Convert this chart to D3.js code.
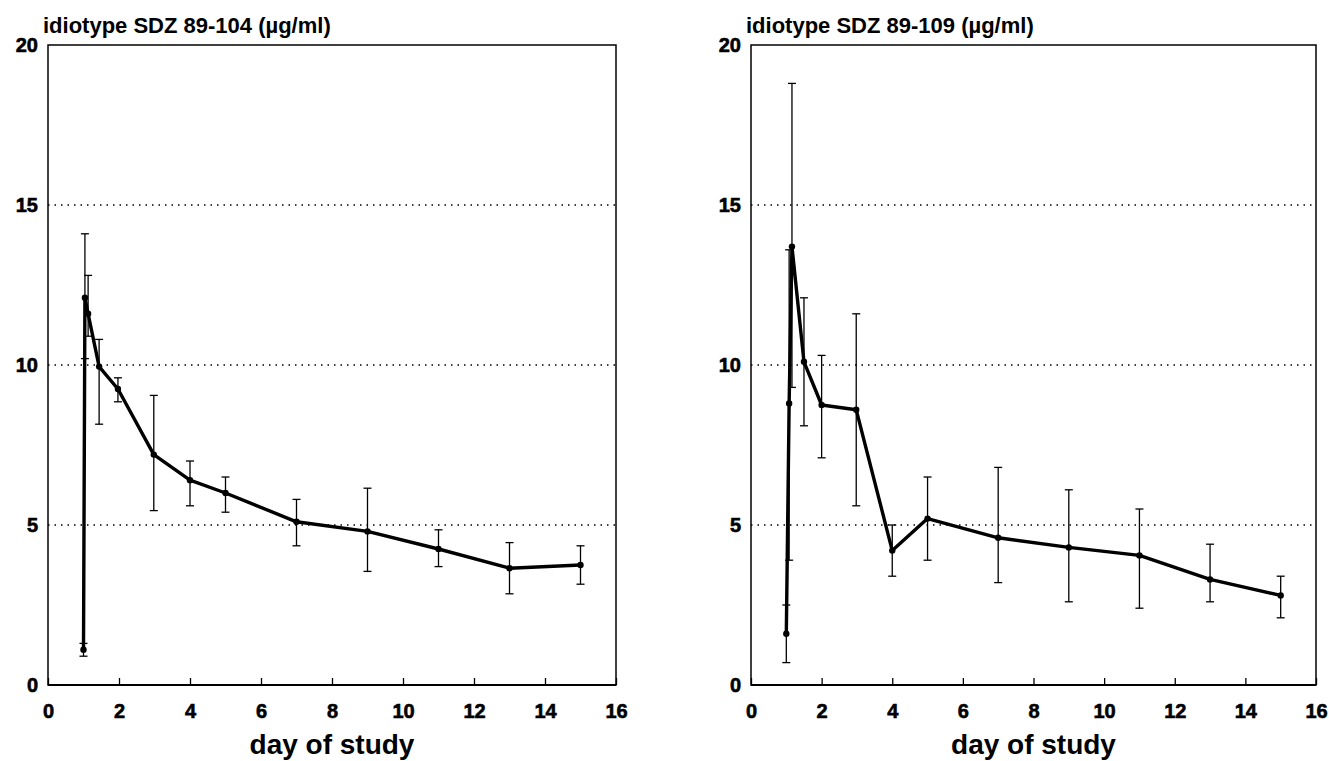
<!DOCTYPE html>
<html>
<head>
<meta charset="utf-8">
<script src="https://cdn.jsdelivr.net/npm/d3@7"></script>
<style>
  body { margin: 0; background: #fff; }
  svg { display: block; }
  text { font-family: "Liberation Sans", Arial, sans-serif; fill: #000; }
</style>
</head>
<body>
<svg id="chart" width="1329" height="761"></svg>
<script>
// ---- data ----
const xTicks = [0, 2, 4, 6, 8, 10, 12, 14, 16];
const yTicks = [0, 5, 10, 15, 20];
const gridValues = [5, 10, 15];

const titleLeft = "idiotype SDZ 89-104 (µg/ml)";
const daysLeft  = [1.0, 1.04, 1.13, 1.44, 1.97, 2.98, 4, 5, 7, 9, 11, 13, 15];
const meanLeft  = [1.1, 12.1, 11.6, 9.95, 9.25, 7.2, 6.4, 6.0, 5.1, 4.8, 4.25, 3.65, 3.75];
const lowLeft   = [0.9, 10.2, 10.9, 8.15, 8.85, 5.45, 5.6, 5.4, 4.35, 3.55, 3.7, 2.85, 3.15];
const highLeft  = [1.3, 14.1, 12.8, 10.8, 9.6, 9.05, 7.0, 6.5, 5.8, 6.15, 4.85, 4.45, 4.35];

const titleRight = "idiotype SDZ 89-109 (µg/ml)";
const daysRight  = [1.0, 1.08, 1.16, 1.5, 2, 2.98, 4, 5, 7, 9, 11, 13, 15];
const meanRight  = [1.6, 8.8, 13.7, 10.1, 8.75, 8.6, 4.2, 5.2, 4.6, 4.3, 4.05, 3.3, 2.8];
const lowRight   = [0.7, 3.9, 9.3, 8.1, 7.1, 5.6, 3.4, 3.9, 3.2, 2.6, 2.4, 2.6, 2.1];
const highRight  = [2.5, 13.6, 18.8, 12.1, 10.3, 11.6, 5.0, 6.5, 6.8, 6.1, 5.5, 4.4, 3.4];

const xLabel = "day of study";

// ---- drawing ----
const svg = d3.select("#chart");
const FONT = "'Liberation Sans', Arial, sans-serif";

function panel(left, right, title, days, mean, low, high) {
  const x = d3.scaleLinear().domain([0, 16]).range([left, right]);
  const y = d3.scaleLinear().domain([0, 20]).range([685, 45]);
  const g = svg.append("g");

  // dotted gridlines
  g.selectAll("line.grid").data(gridValues).enter().append("line")
    .attr("x1", x(0)).attr("x2", x(16))
    .attr("y1", d => y(d)).attr("y2", d => y(d))
    .attr("stroke", "#000").attr("stroke-width", 1.3)
    .attr("stroke-dasharray", "1.5,5");

  // frame
  g.append("rect")
    .attr("x", x(0)).attr("y", y(20))
    .attr("width", x(16) - x(0)).attr("height", y(0) - y(20))
    .attr("fill", "none").attr("stroke", "#000").attr("stroke-width", 1.5);
  g.append("line").attr("x1", x(0)).attr("x2", x(16))
    .attr("y1", y(0)).attr("y2", y(0)).attr("stroke", "#000").attr("stroke-width", 2.2);

  // x axis (inner ticks)
  const xa = g.append("g").attr("transform", `translate(0,${y(0)})`)
    .call(d3.axisBottom(x).tickValues(xTicks).tickSizeInner(-7).tickSizeOuter(0).tickPadding(19));
  xa.select(".domain").remove();
  xa.selectAll("line").attr("stroke", "#000").attr("stroke-width", 1.3);
  xa.selectAll("text").style("font-size", "20px").style("font-weight", "bold")
    .style("font-family", FONT).attr("stroke", "#000").attr("stroke-width", 0.6);

  // y axis labels
  const ya = g.append("g").attr("transform", `translate(${x(0)},0)`)
    .call(d3.axisLeft(y).tickValues(yTicks).tickSize(0).tickPadding(10));
  ya.select(".domain").remove();
  ya.selectAll("text").style("font-size", "20px").style("font-weight", "bold")
    .style("font-family", FONT).attr("stroke", "#000").attr("stroke-width", 0.6);

  // title
  g.append("text").attr("x", x(0) - 5).attr("y", 33)
    .style("font-size", "22px").style("font-weight", "bold").text(title);

  // x label
  g.append("text").attr("x", (x(0) + x(16)) / 2).attr("y", 754)
    .attr("text-anchor", "middle")
    .style("font-size", "28px").style("font-weight", "bold").text(xLabel);

  const pts = days.map((d, i) => ({ d, m: mean[i], lo: low[i], hi: high[i] }));

  // error bars
  const eb = g.selectAll("g.eb").data(pts).enter().append("g");
  eb.append("line").attr("x1", p => x(p.d)).attr("x2", p => x(p.d))
    .attr("y1", p => y(p.lo)).attr("y2", p => y(p.hi))
    .attr("stroke", "#000").attr("stroke-width", 1.3);
  eb.append("line").attr("x1", p => x(p.d) - 4).attr("x2", p => x(p.d) + 4)
    .attr("y1", p => y(p.lo)).attr("y2", p => y(p.lo))
    .attr("stroke", "#000").attr("stroke-width", 1.3);
  eb.append("line").attr("x1", p => x(p.d) - 4).attr("x2", p => x(p.d) + 4)
    .attr("y1", p => y(p.hi)).attr("y2", p => y(p.hi))
    .attr("stroke", "#000").attr("stroke-width", 1.3);

  // mean line
  g.append("path").datum(pts)
    .attr("d", d3.line().x(p => x(p.d)).y(p => y(p.m)))
    .attr("fill", "none").attr("stroke", "#000").attr("stroke-width", 3.4)
    .attr("stroke-linejoin", "round");

  // points
  g.selectAll("circle").data(pts).enter().append("circle")
    .attr("cx", p => x(p.d)).attr("cy", p => y(p.m)).attr("r", 3.2)
    .attr("fill", "#000");
}

panel(48, 616, titleLeft, daysLeft, meanLeft, lowLeft, highLeft);
panel(751, 1316, titleRight, daysRight, meanRight, lowRight, highRight);
</script>
</body>
</html>
